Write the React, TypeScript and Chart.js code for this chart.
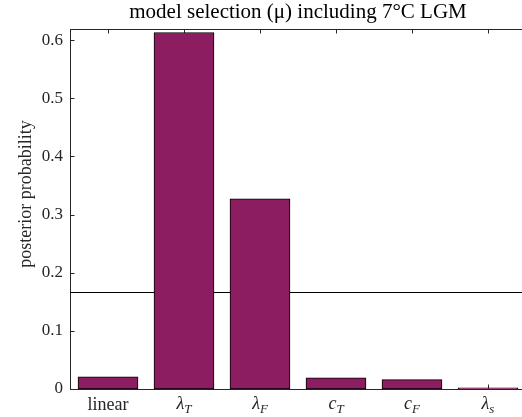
import React, { useEffect, useRef } from "react";
import { Chart, registerables } from "chart.js";

Chart.register(...registerables);

const categories = ["linear", "λ_T", "λ_F", "c_T", "c_F", "λ_s"];
const posterior = [0.021, 0.613, 0.327, 0.019, 0.016, 0.002];
const uniformPrior = 1 / 6;
const yTicks = [0, 0.1, 0.2, 0.3, 0.4, 0.5, 0.6];
const titleText = "model selection (μ) including 7°C LGM";
const yLabel = "posterior probability";

const FONT = "'Liberation Serif', serif";
const AX = "#262626";

const decorPlugin = {
  id: "decor",
  beforeDatasetsDraw(chart: any) {
    const { ctx, chartArea: a, scales } = chart;
    const y = scales.y;
    const x = scales.x;
    ctx.save();
    const yl = Math.round(y.getPixelForValue(uniformPrior)) + 0.5;
    ctx.strokeStyle = "#000";
    ctx.lineWidth = 1;
    ctx.beginPath();
    ctx.moveTo(a.left, yl);
    ctx.lineTo(a.right, yl);
    ctx.stroke();
    ctx.strokeStyle = AX;
    ctx.beginPath();
    ctx.moveTo(a.left, a.top + 0.5);
    ctx.lineTo(a.right, a.top + 0.5);
    ctx.stroke();
    const tl = 4.5;
    for (let i = 0; i < categories.length; i++) {
      const px = Math.round(x.getPixelForValue(i)) + 0.5;
      ctx.beginPath();
      ctx.moveTo(px, a.top);
      ctx.lineTo(px, a.top + tl);
      ctx.stroke();
      ctx.beginPath();
      ctx.moveTo(px, a.bottom);
      ctx.lineTo(px, a.bottom - tl);
      ctx.stroke();
    }
    for (const v of yTicks) {
      const py = Math.round(y.getPixelForValue(v)) + 0.5;
      ctx.beginPath();
      ctx.moveTo(a.left, py);
      ctx.lineTo(a.left + tl, py);
      ctx.stroke();
    }
    ctx.restore();
  },
  afterDraw(chart: any) {
    const { ctx, chartArea: a, scales } = chart;
    const x = scales.x;
    ctx.save();
    ctx.fillStyle = AX;
    ctx.textBaseline = "alphabetic";
    const mainSize = 18;
    const subSize = 13;
    categories.forEach((lab, i) => {
      const cx = x.getPixelForValue(i);
      const base = a.bottom + 20;
      if (lab.includes("_")) {
        const [m, s] = lab.split("_");
        ctx.font = `italic ${mainSize}px ${FONT}`;
        const wm = ctx.measureText(m).width;
        ctx.font = `italic ${subSize}px ${FONT}`;
        const ws = ctx.measureText(s).width;
        const start = cx - (wm + ws) / 2;
        ctx.textAlign = "left";
        ctx.font = `italic ${mainSize}px ${FONT}`;
        ctx.fillText(m, start, base);
        ctx.font = `italic ${subSize}px ${FONT}`;
        ctx.fillText(s, start + wm, base + 3.5);
      } else {
        ctx.font = `${mainSize}px ${FONT}`;
        ctx.textAlign = "center";
        ctx.fillText(lab, cx, base + 1);
      }
    });
    ctx.translate(31, 194);
    ctx.rotate(-Math.PI / 2);
    ctx.font = `18px ${FONT}`;
    ctx.textAlign = "center";
    ctx.fillText(yLabel, 0, 0);
    ctx.restore();
  },
};

export default function App() {
  const ref = useRef<HTMLCanvasElement | null>(null);
  useEffect(() => {
    if (!ref.current) return;
    const chart = new Chart(ref.current, {
      type: "bar",
      data: {
        labels: categories,
        datasets: [
          {
            data: posterior,
            backgroundColor: "rgb(140,29,96)",
            borderColor: "#000",
            borderWidth: 1,
            borderSkipped: false,
            barThickness: 60,
          },
        ],
      },
      options: {
        responsive: false,
        animation: false,
        layout: { padding: { left: 0, right: 4, top: 0, bottom: 0 } },
        plugins: {
          legend: { display: false },
          tooltip: { enabled: false },
          title: {
            display: true,
            fullSize: false,
            text: titleText,
            color: "#000",
            font: { family: FONT, size: 21, weight: "normal", lineHeight: 1 },
            padding: { top: 2, bottom: 6 },
          },
        },
        scales: {
          x: {
            type: "category",
            offset: true,
            grid: { display: false, drawTicks: false },
            border: { display: true, color: AX, width: 1 },
            ticks: { display: false },
            afterFit: (s: any) => {
              s.height = 28;
            },
          },
          y: {
            min: 0,
            max: 0.619,
            afterBuildTicks: (s: any) => {
              s.ticks = yTicks.map((v) => ({ value: v }));
            },
            grid: { display: false, drawTicks: false },
            border: { display: true, color: AX, width: 1 },
            ticks: {
              color: AX,
              padding: 7,
              font: { family: FONT, size: 17 },
              callback: (v: any) => (v === 0 ? "0" : Number(v).toFixed(1)),
            },
            afterFit: (s: any) => {
              s.width = 70;
            },
          },
        },
      },
      plugins: [decorPlugin],
    });
    return () => chart.destroy();
  }, []);
  return (
    <div
      style={{
        position: "fixed",
        left: 0,
        top: 0,
        width: 522,
        height: 417,
        overflow: "hidden",
        background: "#fff",
      }}
    >
      <canvas ref={ref} width={530} height={417} />
    </div>
  );
}
